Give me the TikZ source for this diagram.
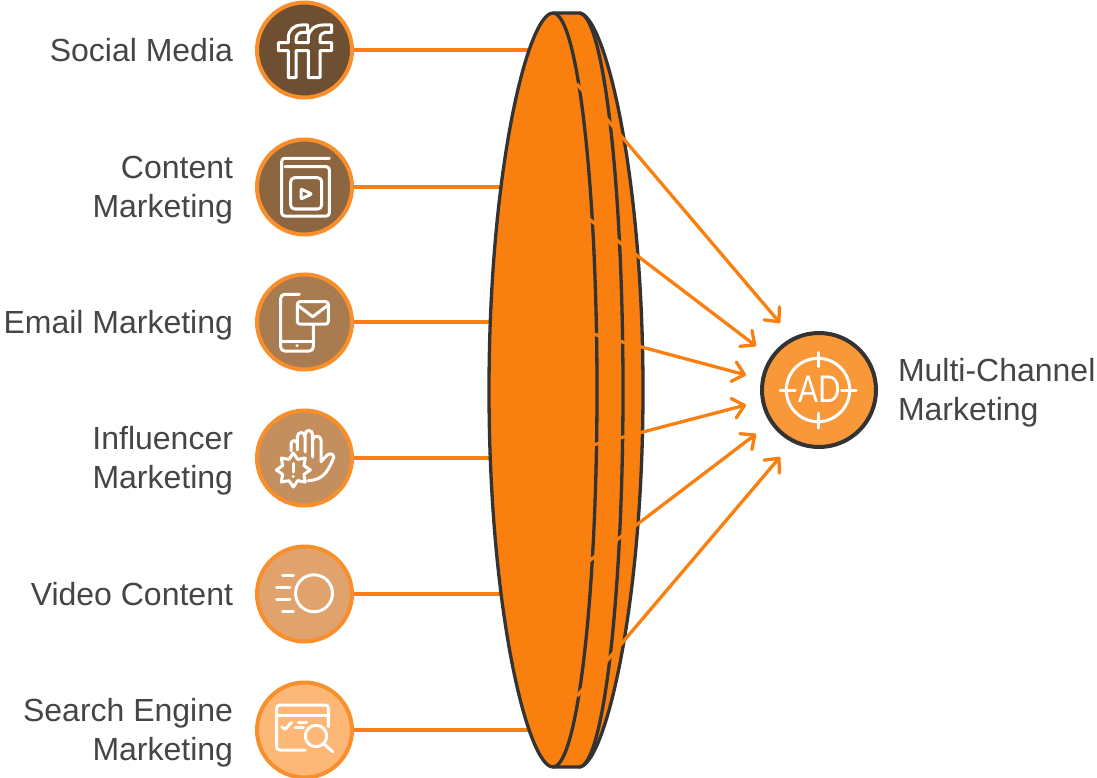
\documentclass[tikz,border=0pt]{standalone}
\usepackage{fontspec}
\usepackage{xcolor}
\usepackage{tikz}
\usetikzlibrary{arrows.meta, positioning}
\setmainfont{Liberation Sans}
\newfontfamily\adfont{Lato}

\definecolor{lensOrange}{HTML}{F97F0F}
\definecolor{ringOrange}{HTML}{F98F2B}
\definecolor{darkEdge}{HTML}{333333}
\definecolor{labelGray}{HTML}{454545}
\definecolor{adFill}{HTML}{F99838}

\tikzset{
  source/.style={circle, draw=ringOrange, line width=4pt, minimum size=95pt, inner sep=0pt},
  labeltext/.style={text=labelGray, inner sep=0pt, outer sep=0pt, font=\fontsize{32}{39}\selectfont},
  oneline/.style={labeltext, text height=23pt, text depth=0pt},
  twoline/.style={labeltext, yshift=-2.7pt},
  feed/.style={draw=lensOrange, line width=3.3pt},
  beam/.style={draw=lensOrange, line width=3.3pt, -{Straight Barb[length=11pt, width=20pt, round]}},
  lensedge/.style={draw=darkEdge, line width=3.3pt},
  icon/.style={draw=white, line width=3pt, line cap=round, line join=round}
}

\begin{document}
\begin{tikzpicture}[x=1pt, y=-1pt]
      \useasboundingbox (0,0) rectangle (1097,778);

      % Source circles
      \foreach \name/\ypos/\shade in {social/50/6E4F32, content/187/8C6641, email/322/A87B50,
          influencer/458/C48F5F, video/594/E0A36E, search/730/FDB777} {
        \definecolor{nodeFill}{HTML}{\shade}
        \node[source, fill=nodeFill] (\name) at (304.5,\ypos) {};
      }

      % Target circle
      \node[circle, draw=darkEdge, line width=4pt, fill=adFill, minimum size=114pt, inner sep=0pt] (channel) at (819,390) {};

      % Labels
      \node[oneline, left=22pt of social] (socialText) {Social Media};
      \node[twoline, left=22pt of content, align=right] (contentText) {Content\\Marketing};
      \node[oneline, left=22pt of email] (emailText) {Email Marketing};
      \node[twoline, left=22pt of influencer, align=right] (influencerText) {Influencer\\Marketing};
      \node[oneline, left=22pt of video] (videoText) {Video Content};
      \node[twoline, left=22pt of search, align=right] (searchText) {Search Engine\\Marketing};
      \node[twoline, right=20pt of channel, align=left] (channelText) {Multi-Channel\\Marketing};

      % Points where the feeds meet the lens
      \coordinate (socialIn) at (535,50);
      \coordinate (contentIn) at (505,187);
      \coordinate (emailIn) at (495,322);
      \coordinate (influencerIn) at (495,458);
      \coordinate (videoIn) at (505,594);
      \coordinate (searchIn) at (535,730);

      % Feeds
      \foreach \name in {social,content,email,influencer,video,search} {
        \draw[feed] (\name) -- (\name In);
      }

      % Lens body
      \draw[lensedge, fill=lensOrange] (553,13) -- (579,13)
        .. controls (604,13) and (643,170) .. (643,390)
        .. controls (643,610) and (604,767) .. (579,767) -- (553,767)
        .. controls (528,767) and (489,610) .. (489,390)
        .. controls (489,170) and (528,13) .. (553,13) -- cycle;
      \draw[lensedge] (553,13) arc[start angle=-90, end angle=90, x radius=44, y radius=377];
      \draw[lensedge] (579,13) arc[start angle=-90, end angle=90, x radius=44, y radius=377];

      % Beams leaving the lens
      \coordinate (beamA) at (577,84);
      \coordinate (beamB) at (589,219);
      \coordinate (beamC) at (593,334);
      \coordinate (beamD) at (593,445);
      \coordinate (beamE) at (589,561);
      \coordinate (beamF) at (577,696);
      \coordinate (tipA) at (780,323);
      \coordinate (tipB) at (756,346);
      \coordinate (tipC) at (746,375);
      \coordinate (tipD) at (746,405);
      \coordinate (tipE) at (756,434);
      \coordinate (tipF) at (780,457);
      \foreach \i in {A,B,C,D,E,F} {
        \draw[beam] (beam\i) -- (tip\i);
      }

      % Social icon
      \draw[icon] (288.3,77.7) -- (288.3,50.7) -- (278.3,50.7) -- (278.3,42.7) -- (288.3,42.7) -- (288.3,38)
        .. controls (288.3,30) and (294,25) .. (302,25) -- (307.5,25) -- (307.5,32.3) -- (303,32.3)
        .. controls (299,32.3) and (296,35) .. (296,39) -- (296,42.7) -- (308.3,42.7) -- (308.3,38)
        .. controls (308.3,30) and (315,25) .. (323,25) -- (331.7,25) -- (331.7,32.3) -- (325,32.3)
        .. controls (322,32.3) and (320,35) .. (320,39) -- (320,42.7) -- (331.7,42.7) -- (331.7,50.7)
        -- (320,50.7) -- (320,77.7) -- (308.3,77.7) -- (308.3,50.7) -- (296,50.7) -- (296,77.7) -- cycle;

      % Book icon
      \draw[icon, rounded corners=3pt] (329.3,158.3) -- (281.7,158.3) -- (281.7,216) -- (329.3,216) -- (329.3,166.7) -- (285,166.7);
      \draw[icon, rounded corners=4pt] (290.7,177.7) rectangle (321.7,209);
      \draw[icon, rounded corners=1pt] (301,189) -- (311.7,194) -- (301,199) -- cycle;

      % Phone and envelope icon
      \draw[icon, rounded corners=4pt] (299.3,294.3) -- (280.7,294.3) -- (280.7,351) -- (313.3,351) -- (313.3,325);
      \draw[icon] (280.7,341) -- (313.3,341);
      \fill[white] (297,345.7) circle (1.7pt);
      \draw[icon, rounded corners=2.5pt] (297.3,301.7) rectangle (328.3,324);
      \draw[icon] (297.3,305) -- (312.7,316.7) -- (328.3,305);

      % Hand and burst icon
      \draw[icon] (291,451) -- (291,444) .. controls (291,439.5) and (297.3,439.5) .. (297.3,444) -- (297.3,450);
      \draw[icon] (297.3,444) -- (297.3,437) .. controls (297.3,431) and (305,431) .. (305,437) -- (305,452);
      \draw[icon] (305,437) -- (305,435) .. controls (305,429) and (312.7,429) .. (312.7,435) -- (312.7,457);
      \draw[icon] (312.7,440) .. controls (312.7,435) and (321,435) .. (321,440) -- (321,461.7)
        -- (327.3,455) .. controls (331,451.5) and (336,456) .. (332.7,460)
        .. controls (327,473) and (322,480) .. (308.3,480.7);
      \draw[icon] plot[samples at={0,22.5,...,337.5}] ({293.3+(mod(\x,45)==0 ? 17 : 11.5)*sin(\x)}, {470-(mod(\x,45)==0 ? 17 : 11.5)*cos(\x)}) -- cycle;
      \draw[icon] (293.3,463.5) -- (293.3,472);
      \fill[white] (293.3,476.5) circle (1.6pt);

      % Moving circle icon
      \draw[icon] (314,593.3) circle (18.5pt);
      \draw[icon] (282.7,575) -- (293.3,575);
      \draw[icon] (276.7,587.3) -- (290,587.3);
      \draw[icon] (276.7,599.3) -- (290,599.3);
      \draw[icon] (282.7,611.7) -- (293.3,611.7);

      % Browser search icon
      \draw[icon, rounded corners=3pt] (328.3,726.7) -- (328.3,705) -- (276.7,705) -- (276.7,750) -- (305,750);
      \draw[icon] (276.7,715) -- (328.3,715);
      \draw[icon] (281.7,726.7) -- (285,729.3) -- (291.7,722.3);
      \draw[icon] (298.3,722.3) -- (306.7,722.3);
      \draw[icon] (295,727.3) -- (303.3,727.3);
      \draw[icon] (316,736) circle (10.7pt);
      \draw[icon] (324,744) -- (332.7,751.7);

      % Target icon
      \draw[icon] (818,390) circle (31.7pt);
      \draw[icon] (818,352.7) -- (818,366.7);
      \draw[icon] (780,390) -- (795,390);
      \draw[icon] (841.7,390) -- (856,390);
      \draw[icon] (818,413) -- (818,428);
      \node[text=white, inner sep=0pt, xscale=0.8, font=\adfont\fontsize{37}{37}\selectfont] (adText) at (819.5,389.5) {AD};

\end{tikzpicture}
\end{document}
